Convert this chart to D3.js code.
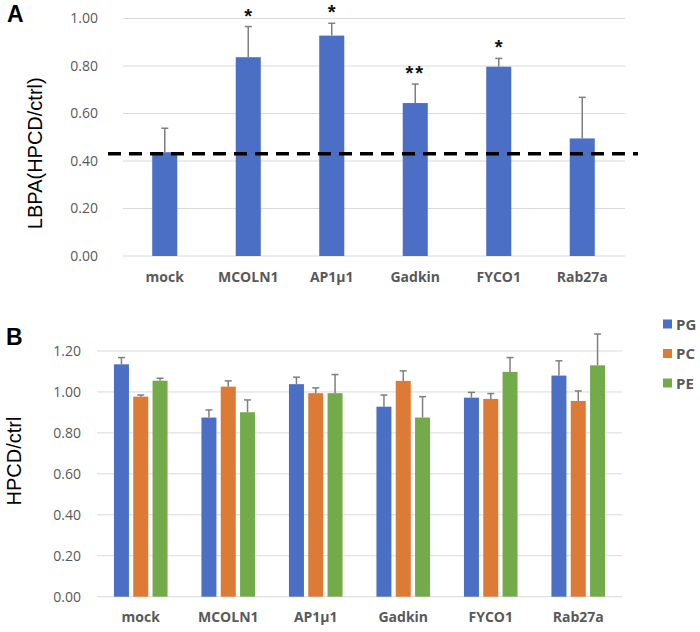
<!DOCTYPE html>
<html>
<head>
<meta charset="utf-8">
<script src="https://cdn.jsdelivr.net/npm/d3@7"></script>
<style>
  body { margin: 0; background: #fff; }
  svg { display: block; }
</style>
</head>
<body>
<svg id="chart" width="700" height="632"></svg>
<script>
// ---------- Data ----------
const categories = ["mock", "MCOLN1", "AP1\u03bc1", "Gadkin", "FYCO1", "Rab27a"];

// Panel A
const lbpaValues = [0.437, 0.837, 0.928, 0.644, 0.797, 0.495];
const lbpaErrors = [0.101, 0.129, 0.052, 0.080, 0.035, 0.173];
const lbpaSignif = ["", "*", "*", "**", "*", ""];
const lbpaReference = 0.431;
const ticksA = [0, 0.2, 0.4, 0.6, 0.8, 1.0];

// Panel B
const seriesNames = ["PG", "PC", "PE"];
const pgValues = [1.135, 0.875, 1.038, 0.928, 0.972, 1.080];
const pgErrors = [0.033, 0.037, 0.034, 0.057, 0.026, 0.072];
const pcValues = [0.977, 1.026, 0.994, 1.054, 0.966, 0.956];
const pcErrors = [0.008, 0.028, 0.026, 0.049, 0.026, 0.049];
const peValues = [1.055, 0.901, 0.994, 0.875, 1.098, 1.130];
const peErrors = [0.012, 0.060, 0.091, 0.102, 0.070, 0.153];
const ticksB = [0, 0.2, 0.4, 0.6, 0.8, 1.0, 1.2];

const seriesColors = ["#4a6fc4", "#dd7a35", "#74ab4a"];

// ---------- Styles ----------
const tickFont = "'Open Sans', 'Noto Sans', sans-serif";
const titleFont = "'Liberation Sans', Arial, sans-serif";
const gray = "#595959";
const gridColor = "#d9d9d9";
const errColor = "#7f7f7f";

const svg = d3.select("#chart");

// ================= Panel A =================
const gA = svg.append("g");
const xA = d3.scaleBand().domain(categories).range([123, 624]).paddingInner(0.7).paddingOuter(0.35);
const yA = d3.scaleLinear().domain([0, 1]).range([256, 18.5]);

// gridlines
gA.selectAll("line.grid").data(ticksA).join("line")
  .attr("x1", 123).attr("x2", 625)
  .attr("y1", d => yA(d)).attr("y2", d => yA(d))
  .attr("stroke", gridColor).attr("stroke-width", 1);

// y axis (labels only)
const axA = gA.append("g").attr("transform", "translate(108,0)")
  .call(d3.axisLeft(yA).tickValues(ticksA).tickFormat(d3.format(".2f")).tickSize(0).tickPadding(10));
axA.select(".domain").remove();
axA.selectAll("text").attr("font-family", tickFont).attr("font-size", 14).attr("fill", gray);

// x axis labels
const axXA = gA.append("g").attr("transform", "translate(0,266)")
  .call(d3.axisBottom(xA).tickSize(0).tickPadding(6));
axXA.select(".domain").remove();
axXA.selectAll("text").attr("font-family", tickFont).attr("font-size", 14)
  .attr("font-weight", "bold").attr("fill", gray);

// bars
gA.selectAll("rect.bar").data(categories).join("rect")
  .attr("x", d => xA(d)).attr("width", xA.bandwidth())
  .attr("y", (d, i) => yA(lbpaValues[i]))
  .attr("height", (d, i) => yA(0) - yA(lbpaValues[i]))
  .attr("fill", seriesColors[0]);

// error bars
const errA = gA.selectAll("g.err").data(categories).join("g");
errA.append("line")
  .attr("x1", d => xA(d) + xA.bandwidth() / 2).attr("x2", d => xA(d) + xA.bandwidth() / 2)
  .attr("y1", (d, i) => yA(lbpaValues[i])).attr("y2", (d, i) => yA(lbpaValues[i] + lbpaErrors[i]))
  .attr("stroke", errColor).attr("stroke-width", 1.5);
errA.append("line")
  .attr("x1", d => xA(d) + xA.bandwidth() / 2 - 3.5).attr("x2", d => xA(d) + xA.bandwidth() / 2 + 3.5)
  .attr("y1", (d, i) => yA(lbpaValues[i] + lbpaErrors[i])).attr("y2", (d, i) => yA(lbpaValues[i] + lbpaErrors[i]))
  .attr("stroke", errColor).attr("stroke-width", 1.5);

// significance
gA.selectAll("text.sig").data(categories).join("text")
  .attr("x", d => xA(d) + xA.bandwidth() / 2)
  .attr("y", (d, i) => yA(lbpaValues[i] + lbpaErrors[i]) - 4)
  .attr("text-anchor", "middle")
  .attr("font-family", titleFont).attr("font-size", 20).attr("font-weight", "bold")
  .attr("letter-spacing", (d, i) => lbpaSignif[i].length > 1 ? 2 : 0)
  .attr("fill", "#111")
  .text((d, i) => lbpaSignif[i]);

// reference dashed line
gA.append("line")
  .attr("x1", 108).attr("x2", 638)
  .attr("y1", yA(lbpaReference)).attr("y2", yA(lbpaReference))
  .attr("stroke", "#000").attr("stroke-width", 3.5).attr("stroke-dasharray", "13,8");

// y title
gA.append("text")
  .attr("transform", `translate(42,${(yA(0) + yA(1)) / 2 + 16}) rotate(-90)`)
  .attr("text-anchor", "middle")
  .attr("font-family", titleFont).attr("font-size", 20).attr("fill", "#000")
  .text("LBPA(HPCD/ctrl)");

// panel letter
svg.append("text").attr("x", 7).attr("y", 22)
  .attr("font-family", titleFont).attr("font-size", 23).attr("font-weight", "bold")
  .text("A");

// ================= Panel B =================
const gB = svg.append("g");
const xB = d3.scaleBand().domain(categories).range([97, 622]);
const xInner = d3.scaleBand().domain(seriesNames).range([-26.8, 26.8]).paddingInner(0.223);
const yB = d3.scaleLinear().domain([0, 1.2]).range([596.7, 351]);

gB.selectAll("line.grid").data(ticksB).join("line")
  .attr("x1", 97).attr("x2", 622)
  .attr("y1", d => yB(d)).attr("y2", d => yB(d))
  .attr("stroke", gridColor).attr("stroke-width", 1);

const axB = gB.append("g").attr("transform", "translate(91,0)")
  .call(d3.axisLeft(yB).tickValues(ticksB).tickFormat(d3.format(".2f")).tickSize(0).tickPadding(10));
axB.select(".domain").remove();
axB.selectAll("text").attr("font-family", tickFont).attr("font-size", 14).attr("fill", gray);

const axXB = gB.append("g").attr("transform", "translate(0,606)")
  .call(d3.axisBottom(xB).tickSize(0).tickPadding(6));
axXB.select(".domain").remove();
axXB.selectAll("text").attr("font-family", tickFont).attr("font-size", 14)
  .attr("font-weight", "bold").attr("fill", gray);

const seriesVals = [pgValues, pcValues, peValues];
const seriesErrs = [pgErrors, pcErrors, peErrors];
const flat = [];
seriesNames.forEach((s, si) => {
  categories.forEach((c, ci) => {
    flat.push({ cat: c, series: s, si, v: seriesVals[si][ci], e: seriesErrs[si][ci] });
  });
});

const cx = d => xB(d.cat) + xB.bandwidth() / 2 + xInner(d.series);

gB.selectAll("rect.bar").data(flat).join("rect")
  .attr("x", d => cx(d)).attr("width", xInner.bandwidth())
  .attr("y", d => yB(d.v)).attr("height", d => yB(0) - yB(d.v))
  .attr("fill", d => seriesColors[d.si]);

const errB = gB.selectAll("g.err").data(flat).join("g");
errB.append("line")
  .attr("x1", d => cx(d) + xInner.bandwidth() / 2).attr("x2", d => cx(d) + xInner.bandwidth() / 2)
  .attr("y1", d => yB(d.v)).attr("y2", d => yB(d.v + d.e))
  .attr("stroke", errColor).attr("stroke-width", 1.5);
errB.append("line")
  .attr("x1", d => cx(d) + xInner.bandwidth() / 2 - 3.5).attr("x2", d => cx(d) + xInner.bandwidth() / 2 + 3.5)
  .attr("y1", d => yB(d.v + d.e)).attr("y2", d => yB(d.v + d.e))
  .attr("stroke", errColor).attr("stroke-width", 1.5);

// legend
const leg = gB.selectAll("g.leg").data(seriesNames).join("g")
  .attr("transform", (d, i) => `translate(663,${324 + i * 29.5})`);
leg.append("rect").attr("x", 0).attr("y", -4.5).attr("width", 9).attr("height", 9)
  .attr("fill", (d, i) => seriesColors[i]);
leg.append("text").attr("x", 13).attr("y", 5.5)
  .attr("font-family", tickFont).attr("font-size", 15).attr("font-weight", "bold")
  .attr("fill", gray).text(d => d);

// y title
gB.append("text")
  .attr("transform", `translate(21,461) rotate(-90)`)
  .attr("text-anchor", "middle")
  .attr("font-family", titleFont).attr("font-size", 20).attr("fill", "#000")
  .text("HPCD/ctrl");

svg.append("text").attr("x", 6).attr("y", 345)
  .attr("font-family", titleFont).attr("font-size", 23).attr("font-weight", "bold")
  .text("B");
</script>
</body>
</html>
